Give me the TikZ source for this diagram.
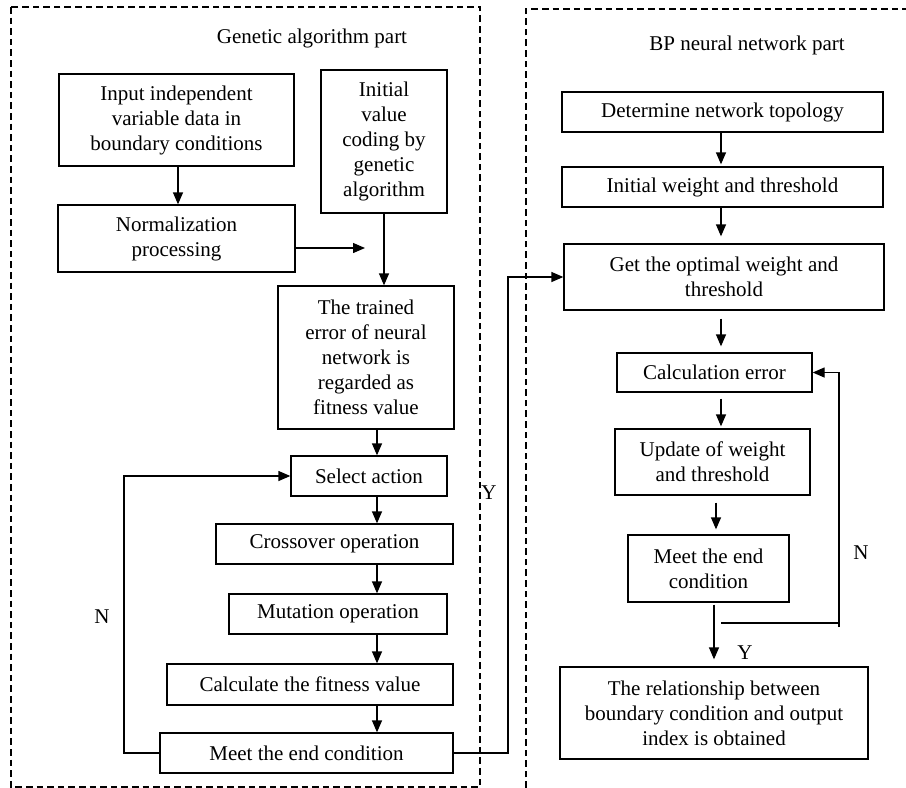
\documentclass[tikz,border=0pt]{standalone}
\usepackage{fontspec}
\setmainfont{Liberation Serif}
\usepackage{tikz}
\usetikzlibrary{arrows.meta}

\begin{document}
\begin{tikzpicture}[x=0.5pt, y=-0.5pt,
    every node/.style={font=\fontsize{10.5}{12.5}\selectfont},
    box/.style={draw, line width=0.65pt, align=center, inner sep=0pt},
    arr/.style={line width=0.65pt, -{Triangle[length=6pt,width=5pt]}},
    line/.style={line width=0.65pt},
    part/.style={dash pattern=on 3.3pt off 2pt, line width=0.6pt}]
    \useasboundingbox (0,0) rectangle (906,788);

    % draw the two parts
    \draw[part] (11,7) rectangle (480,787);
    \draw[part] (526,788) -- (526,9) -- (906,9);
    \node (gatitle) at (312,38) {Genetic algorithm part};
    \node (bptitle) at (747,45) {BP neural network part};

    % genetic algorithm boxes
    \node[box, minimum width=117.5pt, minimum height=46pt] (input) at (176.5,120)
        {Input independent\\variable data in\\boundary conditions};
    \node[box, minimum width=63pt, minimum height=71.5pt] (init) at (384,141.5)
        {Initial\\value\\coding by\\genetic\\algorithm};
    \node[box, minimum width=118.5pt, minimum height=33.5pt] (norm) at (176.5,238.5)
        {Normalization\\processing};
    \node[box, minimum width=88pt, minimum height=71.5pt] (trained) at (366,357.5)
        {The trained\\error of neural\\network is\\regarded as\\fitness value};
    \node[box, minimum width=78pt, minimum height=20pt] (select) at (369,476) {Select action};
    \node[box, minimum width=118.5pt, minimum height=20pt] (cross) at (334.5,544) {Crossover operation};
    \node[box, minimum width=109pt, minimum height=20pt] (mutate) at (338,614) {Mutation operation};
    \node[box, minimum width=143pt, minimum height=20.5pt] (fitness) at (310,684.5) {Calculate the fitness value};
    \node[box, minimum width=146.5pt, minimum height=20pt] (gaend) at (306.5,753) {Meet the end condition};

    % bp network boxes
    \node[box, minimum width=160.5pt, minimum height=20pt] (topo) at (722.5,112) {Determine network topology};
    \node[box, minimum width=160.5pt, minimum height=20pt] (initw) at (722.5,187) {Initial weight and threshold};
    \node[box, minimum width=160pt, minimum height=33pt] (optw) at (724,277)
        {Get the optimal weight and\\threshold};
    \node[box, minimum width=97.5pt, minimum height=19.5pt] (calcerr) at (714.5,372.5) {Calculation error};
    \node[box, minimum width=97.5pt, minimum height=33pt] (update) at (712.5,462)
        {Update of weight\\and threshold};
    \node[box, minimum width=80.5pt, minimum height=33.5pt] (bpend) at (708.5,568.5)
        {Meet the end\\condition};
    \node[box, minimum width=154pt, minimum height=46pt] (result) at (714,713)
        {The relationship between\\boundary condition and output\\index is obtained};

    % helper coordinates
    \coordinate (colL) at (377,0);
    \coordinate (colR) at (721,0);
    \coordinate (loopL) at (124,0);
    \coordinate (loopY) at (508,0);
    \coordinate (normTo) at (365,248);
    \coordinate (nStart) at (721,623);
    \coordinate (nCorner) at (839,627);

    % genetic algorithm arrows
    \draw[arr] (input.south -| 178,0) -- (norm.north -| 178,0);
    \draw[arr] (norm.east |- normTo) -- (normTo);
    \draw[arr] (init.south) -- (init.south |- trained.north);
    \draw[arr] (trained.south -| colL) -- (select.north -| colL);
    \draw[arr] (select.south -| colL) -- (cross.north -| colL);
    \draw[arr] (cross.south -| colL) -- (mutate.north -| colL);
    \draw[arr] (mutate.south -| colL) -- (fitness.north -| colL);
    \draw[arr] (fitness.south -| colL) -- (gaend.north -| colL);
    \draw[arr] (gaend.west) -- (gaend.west -| loopL) -- (select.west -| loopL) -- (select.west);
    \node (nleft) at (102,617) {N};
    \draw[arr] (gaend.east) -- (gaend.east -| loopY) -- (optw.west -| loopY) -- (optw.west);
    \node (yleft) at (489,493) {Y};

    % bp network arrows
    \draw[arr, shorten >=1pt] (topo.south -| colR) -- (initw.north -| colR);
    \draw[arr, shorten >=3.5pt] (initw.south -| colR) -- (optw.north -| colR);
    \draw[arr, shorten <=4pt, shorten >=3pt] (optw.south -| colR) -- (calcerr.north -| colR);
    \draw[arr, shorten <=3pt, shorten >=1pt] (calcerr.south -| colR) -- (update.north -| colR);
    \draw[arr, shorten <=3.5pt, shorten >=2.5pt] (update.south -| 716,0) -- (bpend.north -| 716,0);
    \draw[arr, shorten <=1pt, shorten >=3.5pt] (bpend.south -| 714,0) -- (result.north -| 714,0);
    \node (yright) at (745,653) {Y};
    \draw[line] (nStart) -- (nStart -| nCorner);
    \draw[arr] (nCorner) |- (calcerr.east);
    \node (nright) at (861,553) {N};
\end{tikzpicture}
\end{document}
